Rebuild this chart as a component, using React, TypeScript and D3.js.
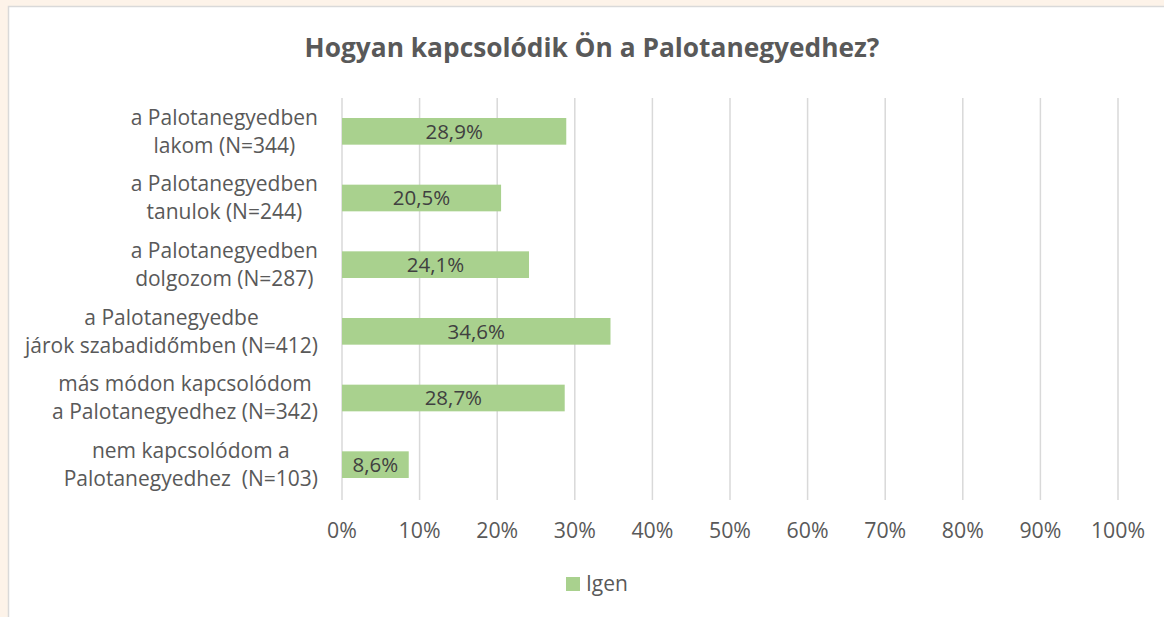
import React, { useEffect, useRef } from "react";
import * as d3 from "d3";

const categories: string[][] = [
  ["a Palotanegyedben", "lakom (N=344)"],
  ["a Palotanegyedben", "tanulok (N=244)"],
  ["a Palotanegyedben", "dolgozom (N=287)"],
  ["a Palotanegyedbe", "járok szabadidőmben (N=412)"],
  ["más módon kapcsolódom", "a Palotanegyedhez (N=342)"],
  ["nem kapcsolódom a", "Palotanegyedhez  (N=103)"],
];
const values: number[] = [28.9, 20.5, 24.1, 34.6, 28.7, 8.6];
const valueLabels: string[] = ["28,9%", "20,5%", "24,1%", "34,6%", "28,7%", "8,6%"];
const xTicks: number[] = [0, 10, 20, 30, 40, 50, 60, 70, 80, 90, 100];
const seriesName = "Igen";
const title = "Hogyan kapcsolódik Ön a Palotanegyedhez?";

const W = 1164;
const H = 617;
const FONT = "'Open Sans', sans-serif";

export default function App() {
  const ref = useRef<SVGSVGElement | null>(null);

  useEffect(() => {
    const svg = d3.select(ref.current);
    svg.selectAll("*").remove();

    svg.append("rect").attr("width", W).attr("height", H).attr("fill", "#fdf3e9");
    svg
      .append("rect")
      .attr("x", 8.5)
      .attr("y", 6.5)
      .attr("width", W + 10)
      .attr("height", H + 10)
      .attr("fill", "#ffffff")
      .attr("stroke", "#d9d9d9")
      .attr("stroke-width", 1.5);

    const x = d3.scaleLinear().domain([0, 100]).range([342, 1118]);
    const y = d3
      .scaleBand<number>()
      .domain(d3.range(categories.length))
      .range([98, 498])
      .paddingInner(0.6)
      .paddingOuter(0.3);

    svg
      .append("text")
      .attr("x", 592)
      .attr("y", 57)
      .attr("text-anchor", "middle")
      .attr("font-family", FONT)
      .attr("font-weight", "bold")
      .attr("font-size", 26.3)
      .attr("fill", "#595959")
      .text(title);

    // gridlines
    svg
      .append("g")
      .selectAll("line")
      .data(xTicks)
      .join("line")
      .attr("x1", (d) => x(d))
      .attr("x2", (d) => x(d))
      .attr("y1", 98)
      .attr("y2", 500)
      .attr("stroke", "#d9d9d9")
      .attr("stroke-width", 1.5);

    // tick labels
    svg
      .append("g")
      .selectAll("text")
      .data(xTicks)
      .join("text")
      .attr("x", (d) => x(d))
      .attr("y", 538)
      .attr("text-anchor", "middle")
      .attr("font-family", FONT)
      .attr("font-size", 21.3)
      .attr("fill", "#595959")
      .text((d) => `${d}%`);

    // bars
    svg
      .append("g")
      .selectAll("rect")
      .data(values)
      .join("rect")
      .attr("x", x(0))
      .attr("y", (_, i) => y(i)!)
      .attr("width", (d) => x(d) - x(0))
      .attr("height", y.bandwidth())
      .attr("fill", "#a9d18e");

    // value labels
    svg
      .append("g")
      .selectAll("text")
      .data(values)
      .join("text")
      .attr("x", (d) => (x(0) + x(d)) / 2)
      .attr("y", (_, i) => y(i)! + y.bandwidth() / 2)
      .attr("dy", "0.35em")
      .attr("text-anchor", "middle")
      .attr("font-family", FONT)
      .attr("font-size", 20.5)
      .attr("fill", "#404040")
      .text((_, i) => valueLabels[i]);

    // category labels: lines centered on each other, block right-aligned
    const labelRight = 318;
    const lineH = 28;
    categories.forEach((lines, i) => {
      const cy = y(i)! + y.bandwidth() / 2;
      const g = svg.append("g");
      const texts = lines.map((ln, j) =>
        g
          .append("text")
          .attr("y", cy + (j - (lines.length - 1) / 2) * lineH)
          .attr("dy", "0.35em")
          .attr("text-anchor", "middle")
          .attr("font-family", FONT)
          .attr("font-size", 21)
          .attr("fill", "#595959")
          .style("white-space", "pre")
          .text(ln)
      );
      const widths = texts.map((t) => (t.node() as SVGTextElement).getComputedTextLength());
      const maxW = d3.max(widths) || 0;
      texts.forEach((t) => t.attr("x", labelRight - maxW / 2));
    });

    // legend
    svg
      .append("rect")
      .attr("x", 566)
      .attr("y", 577)
      .attr("width", 14)
      .attr("height", 14)
      .attr("fill", "#a9d18e");
    svg
      .append("text")
      .attr("x", 586)
      .attr("y", 584)
      .attr("dy", "0.35em")
      .attr("font-family", FONT)
      .attr("font-size", 21)
      .attr("fill", "#595959")
      .text(seriesName);
  }, []);

  return (
    <div style={{ position: "fixed", left: 0, top: 0, width: W, height: H }}>
      <svg ref={ref} width={W} height={H} style={{ display: "block" }} />
    </div>
  );
}
